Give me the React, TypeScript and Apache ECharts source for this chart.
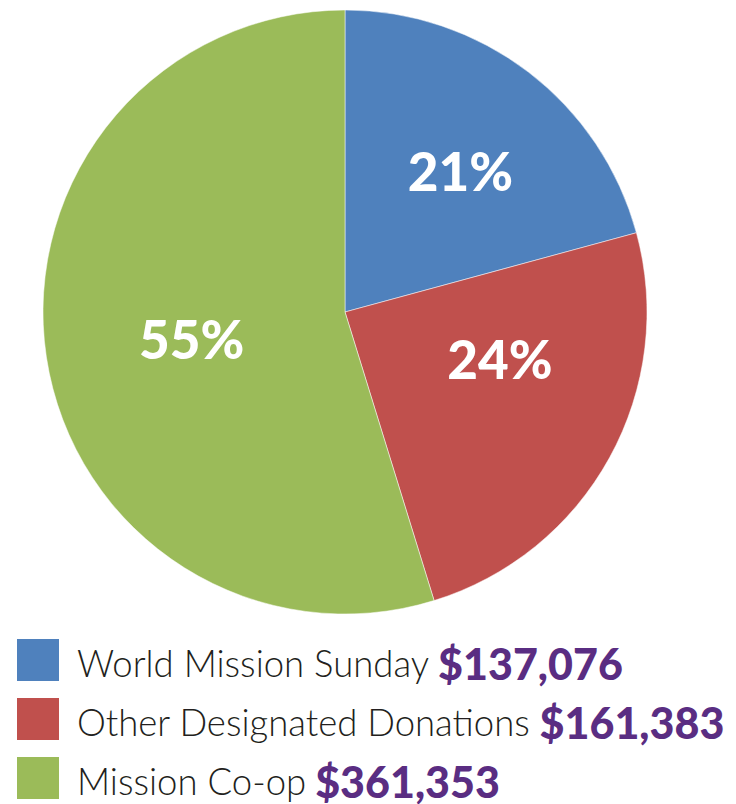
import React, { useEffect, useRef } from "react";
import * as echarts from "echarts";

const categories = ["World Mission Sunday", "Other Designated Donations", "Mission Co-op"];
const amounts = [137076, 161383, 361353];
const amountLabels = ["$137,076", "$161,383", "$361,353"];
const colors = ["#4F81BD", "#C0504D", "#9BBB59"];
const labelOffsets = [[22, -19], [20, -28], [-1, 4]];

export default function App() {
  const ref = useRef<HTMLDivElement>(null);
  useEffect(() => {
    const chart = echarts.init(ref.current!, null, { renderer: "svg" });
    const total = amounts.reduce((a, b) => a + b, 0);
    const legends = categories.map((c, i) => ({
      orient: "horizontal",
      left: 15,
      top: 637 + 59 * i,
      padding: 0,
      itemWidth: 44,
      itemHeight: 44,
      icon: "rect",
      selectedMode: false,
      data: [c],
      formatter: (name: string) => `{n|${name}}{v|${amountLabels[categories.indexOf(name)]}}`,
      textStyle: {
        padding: [6, 0, 0, 12],
        lineHeight: 40,
        rich: {
          n: {
            fontFamily: "Lato",
            fontWeight: 300,
            fontSize: 36.5,
            lineHeight: 40,
            color: "#231f20",
          },
          v: {
            fontFamily: "Lato",
            fontWeight: 900,
            fontSize: 43,
            lineHeight: 40,
            color: "#5A2D82",
            padding: [0, 0, 0, 9],
          },
        },
      },
    }));
    chart.setOption({
      animation: false,
      backgroundColor: "#ffffff",
      legend: legends,
      series: [
        {
          type: "pie",
          center: [345, 312],
          radius: [0, 302],
          startAngle: 90,
          clockwise: true,
          avoidLabelOverlap: false,
          label: {
            show: true,
            position: "inside",
            color: "#ffffff",
            fontFamily: "Lato",
            fontWeight: 900,
            fontSize: 53,
            formatter: (p: any) => `${Math.round((p.value / total) * 100)}%`,
          },
          labelLine: { show: false },
          itemStyle: { borderColor: "#ffffff", borderWidth: 0.5 },
          emphasis: { disabled: true },
          data: categories.map((c, i) => ({
            name: c,
            value: amounts[i],
            itemStyle: { color: colors[i] },
            label: { offset: labelOffsets[i] },
          })),
        },
      ],
    });
    return () => chart.dispose();
  }, []);
  return (
    <div
      ref={ref}
      style={{ position: "fixed", left: 0, top: 0, width: 736, height: 804 }}
    />
  );
}
